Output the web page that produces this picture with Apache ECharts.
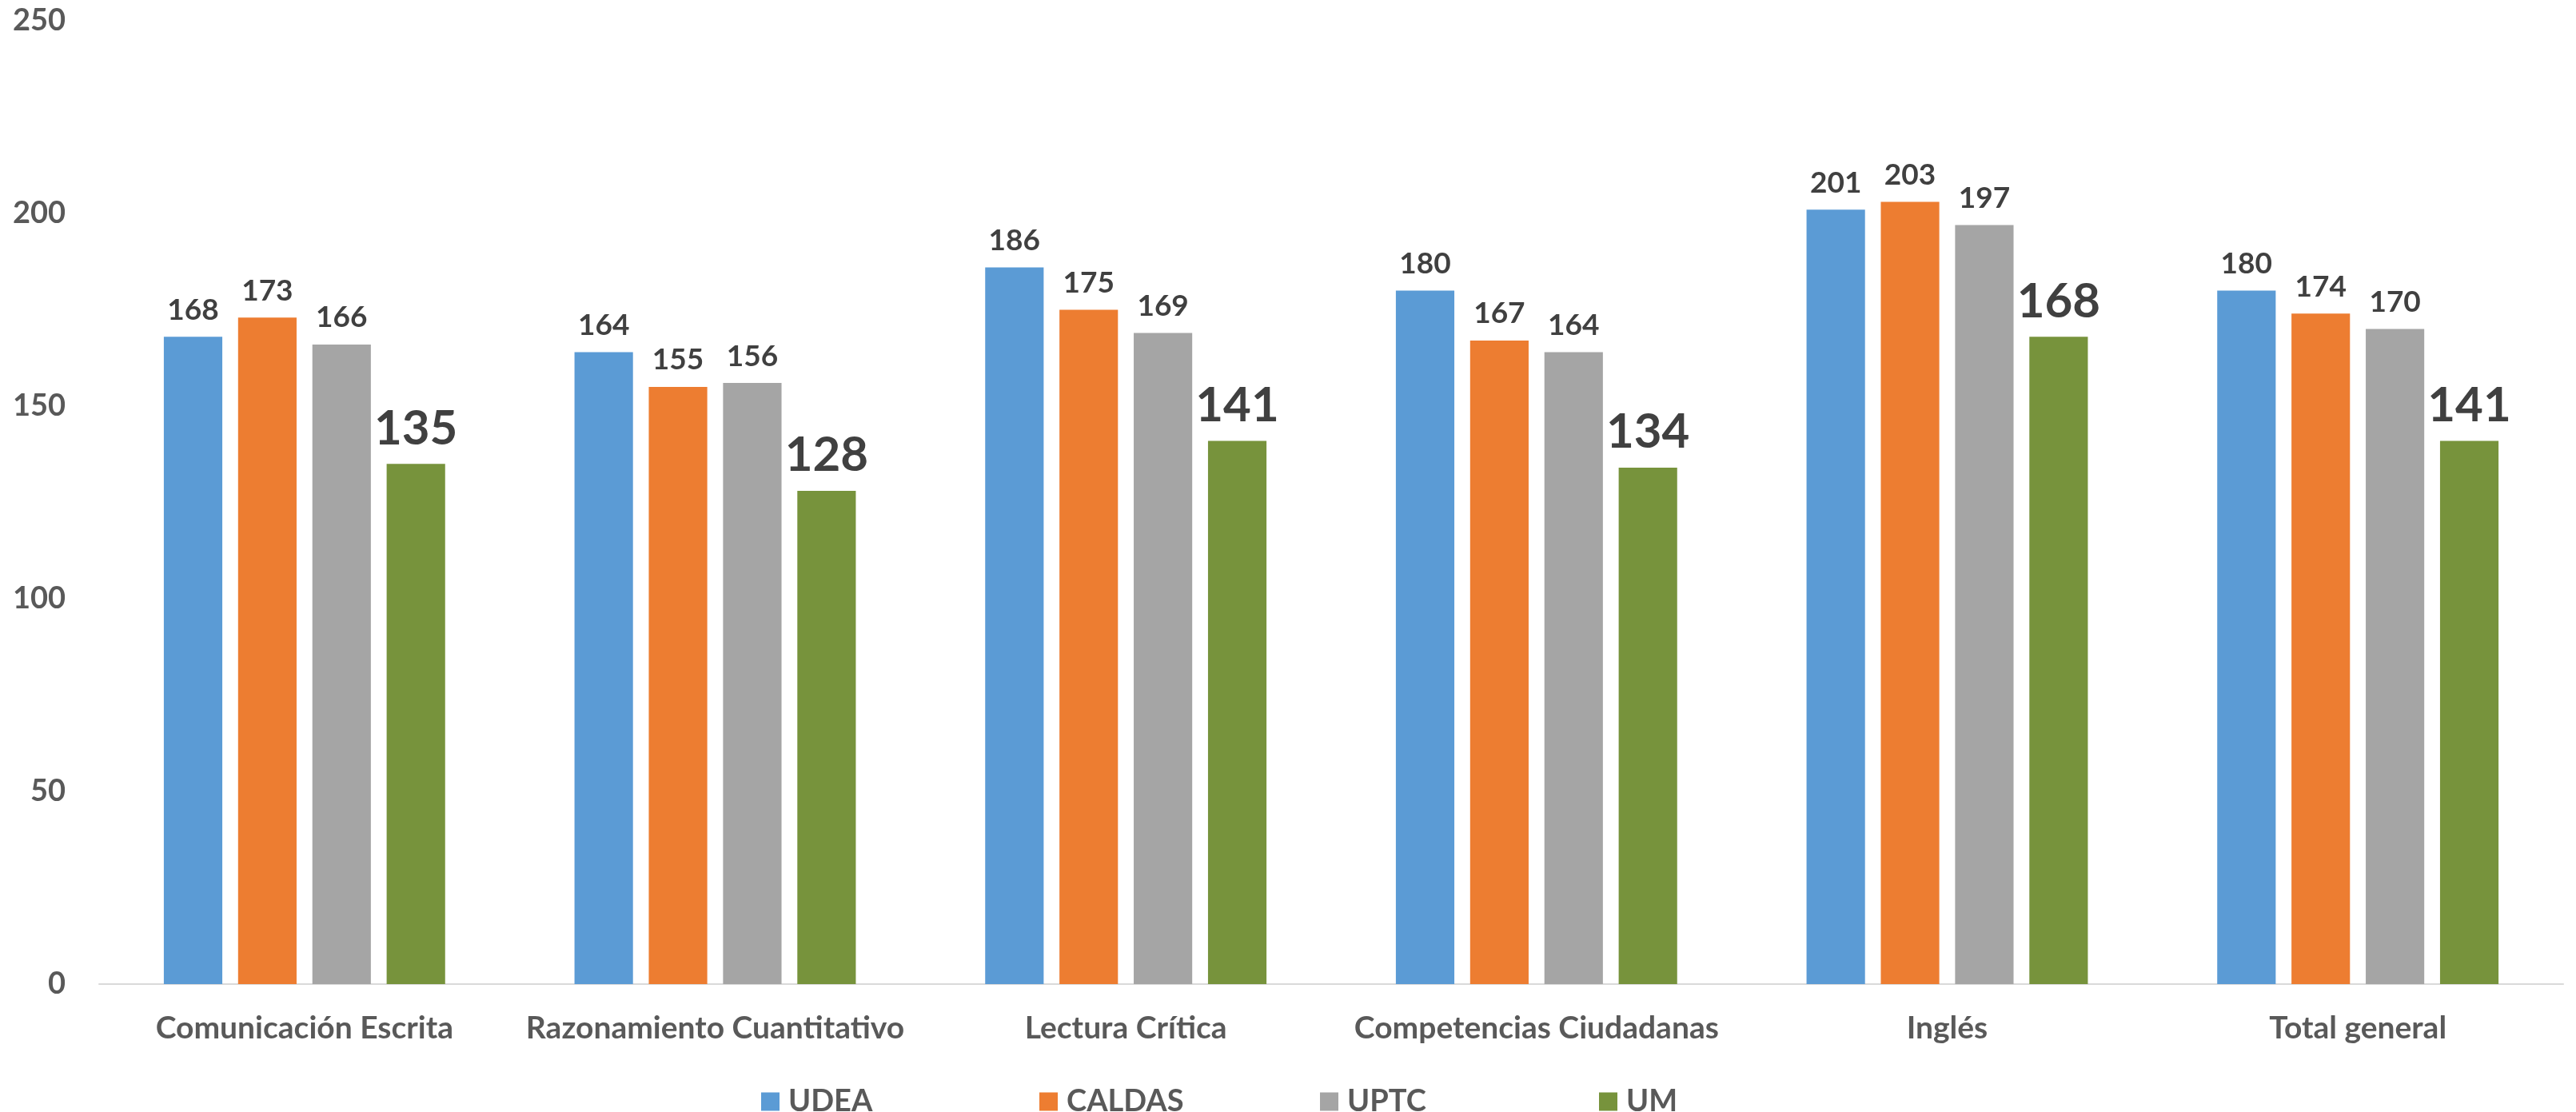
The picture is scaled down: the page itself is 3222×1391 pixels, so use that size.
<!DOCTYPE html>
<html>
<head>
<meta charset="utf-8">
<script src="https://cdn.jsdelivr.net/npm/echarts@6/dist/echarts.min.js"></script>
<style>
html,body{margin:0;padding:0;background:#fff;}
#chart{width:3222px;height:1391px;}
</style>
</head>
<body>
<div id="chart"></div>
<script>
const categories = ["Comunicación Escrita", "Razonamiento Cuantitativo", "Lectura Crítica", "Competencias Ciudadanas", "Inglés", "Total general"];
const seriesNames = ["UDEA", "CALDAS", "UPTC", "UM"];
const udea = [168, 164, 186, 180, 201, 180];
const caldas = [173, 155, 175, 167, 203, 174];
const uptc = [166, 156, 169, 164, 197, 170];
const um = [135, 128, 141, 134, 168, 141];
const yTicks = [0, 50, 100, 150, 200, 250];

const colors = ["#5B9BD5", "#ED7D31", "#A5A5A5", "#77933C"];
const values = [udea, caldas, uptc, um];
const FONT = "Lato";

const chart = echarts.init(document.getElementById('chart'), null, {renderer: 'canvas'});
const series = seriesNames.map((name, i) => ({
  name: name,
  type: 'bar',
  data: values[i],
  barGap: '27%',
  barCategoryGap: '31.5%',
  itemStyle: {color: colors[i]},
  label: {
    show: true,
    position: 'top',
    distance: i === 3 ? 14 : 15,
    color: '#404040',
    fontFamily: FONT,
    fontWeight: 'bold',
    fontSize: i === 3 ? 60 : 37
  }
}));

const legendLefts = [947, 1295, 1646, 1995];
const legends = seriesNames.map((name, i) => ({
  data: [name],
  left: legendLefts[i],
  top: 1354,
  itemWidth: 23,
  itemHeight: 23,
  icon: 'rect',
  textStyle: {
    fontFamily: FONT,
    fontWeight: 'bold',
    fontSize: 38,
    color: '#595959',
    padding: [0, 0, 0, 6]
  }
}));

chart.setOption({
  animation: false,
  backgroundColor: '#ffffff',
  color: colors,
  grid: {left: 124, right: 16, top: 26, bottom: 160, containLabel: false},
  legend: legends,
  xAxis: {
    type: 'category',
    data: categories,
    axisLine: {lineStyle: {color: '#D9D9D9', width: 2}},
    axisTick: {show: false},
    axisLabel: {
      margin: 36,
      color: '#595959',
      fontFamily: FONT,
      fontWeight: 'bold',
      fontSize: 39,
      interval: 0
    }
  },
  yAxis: {
    type: 'value',
    min: yTicks[0],
    max: yTicks[yTicks.length - 1],
    interval: 50,
    splitLine: {show: false},
    axisLine: {show: false},
    axisTick: {show: false},
    axisLabel: {
      margin: 42,
      color: '#595959',
      fontFamily: FONT,
      fontWeight: 'bold',
      fontSize: 38
    }
  },
  series: series
});
</script>
</body>
</html>
